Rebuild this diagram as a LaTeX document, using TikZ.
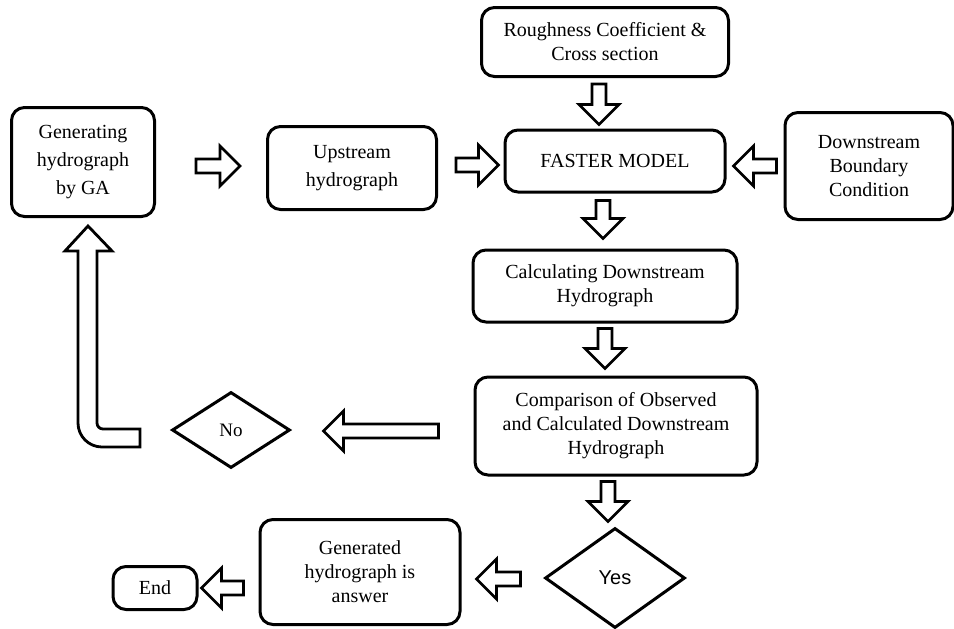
\documentclass[tikz,border=0pt]{standalone}
\usepackage{fontspec}
\setmainfont{Liberation Serif}
\newfontfamily\yesfont{Liberation Sans}
\usetikzlibrary{calc,shapes.geometric}

\begin{document}
\begin{tikzpicture}[x=0.5pt, y=-0.5pt,
    every node/.append style={align=center, font=\fontsize{10}{12}\selectfont},
    box/.style={draw, line width=1.5pt, rounded corners=6.5pt, inner sep=2pt},
    widebox/.style={box, font=\fontsize{10}{14}\selectfont},
    dec/.style={draw, diamond, line width=1.5pt, inner sep=0pt},
    hollow/.style={draw, line width=1.4pt, fill=white, line join=miter},
    blockarrow/.style={hollow, to path={
        (\tikztostart) coordinate (bs)
        (\tikztotarget) coordinate (bt)
        ($(bt)!10pt!(bs)$) coordinate (bm)
        ($(bs)!3.5pt!90:(bt)$) -- ($(bm)!3.5pt!90:(bt)$) -- ($(bm)!10pt!90:(bt)$)
        -- (bt) -- ($(bm)!10pt!-90:(bt)$) -- ($(bm)!3.5pt!-90:(bt)$)
        -- ($(bs)!3.5pt!-90:(bt)$) -- cycle}}]
   \useasboundingbox (0,0) rectangle (954,628);
   % boxes
   \node [box, minimum width=123.5pt, minimum height=34.5pt] (rough) at (605,42) {Roughness Coefficient \&\\ Cross section};
   \node [box, minimum width=110pt, minimum height=31pt] (faster) at (615,161) {FASTER MODEL};
   \node [box, minimum width=84pt, minimum height=53.5pt] (down) at (869,166) {Downstream\\ Boundary\\ Condition};
   \node [widebox, minimum width=71.5pt, minimum height=54.5pt] (ga) at (83,162) {Generating\\ hydrograph\\ by GA};
   \node [widebox, minimum width=84.5pt, minimum height=41.5pt] (up) at (352,168) {Upstream\\ hydrograph};
   \node [box, minimum width=132pt, minimum height=36pt] (calc) at (605,286) {Calculating Downstream\\ Hydrograph};
   \node [box, minimum width=141pt, minimum height=49pt] (comp) at (616,426) {Comparison of Observed\\ and Calculated Downstream\\ Hydrograph};
   \node [dec, minimum width=59pt, minimum height=38pt] (no) at (231,430) {\fontsize{9.5}{11}\selectfont No};
   \node [dec, minimum width=70pt, minimum height=50pt] (yes) at (615,578) {\yesfont Yes};
   \node [box, minimum width=100pt, minimum height=52.5pt] (gen) at (360,572) {Generated\\ hydrograph is\\ answer};
   \node [box, minimum width=42pt, minimum height=21.5pt] (end) at (155,588) {End};
   % block arrows
   \draw [blockarrow] ($(rough.south)+(-6,6)$) to ($(faster.north)+(-16,-4)$);
   \draw [blockarrow] ($(ga.east)+(40,4)$) to ($(up.west)+(-26,-2)$);
   \draw [blockarrow] ($(up.east)+(18,-3)$) to ($(faster.west)+(-5,4)$);
   \draw [blockarrow] ($(down.west)+(-7,0)$) to ($(faster.east)+(7,5)$);
   \draw [blockarrow] ($(faster.south)+(-12,7)$) to ($(calc.north)+(-2,-10)$);
   \draw [blockarrow] ($(calc.south)+(0,5)$) to ($(comp.north)+(-11,-7)$);
   \draw [blockarrow] ($(comp.west)+(-35,5)$) to ($(no.east)+(32,1)$);
   \draw [blockarrow] ($(comp.south)+(-8,5)$) to ($(yes.north)+(-7,-5)$);
   \draw [blockarrow] ($(yes.west)+(-23,1)$) to ($(gen.east)+(15,7)$);
   \draw [blockarrow] ($(gen.west)+(-15,16)$) to ($(end.east)+(3,0)$);
   % bent arrow back to GA
   \coordinate (tip) at ($(ga.south)+(5,8)$);
   \draw [hollow] (tip) -- ++(24,25) -- ++(-15,0)
      [rounded corners=3pt] -- ++(0,178) [sharp corners] -- ++(43,0) -- ++(0,18)
      [rounded corners=12pt] -- ++(-62,0) [sharp corners] -- ++(0,-196) -- ++(-13,0) -- cycle;
\end{tikzpicture}
\end{document}
